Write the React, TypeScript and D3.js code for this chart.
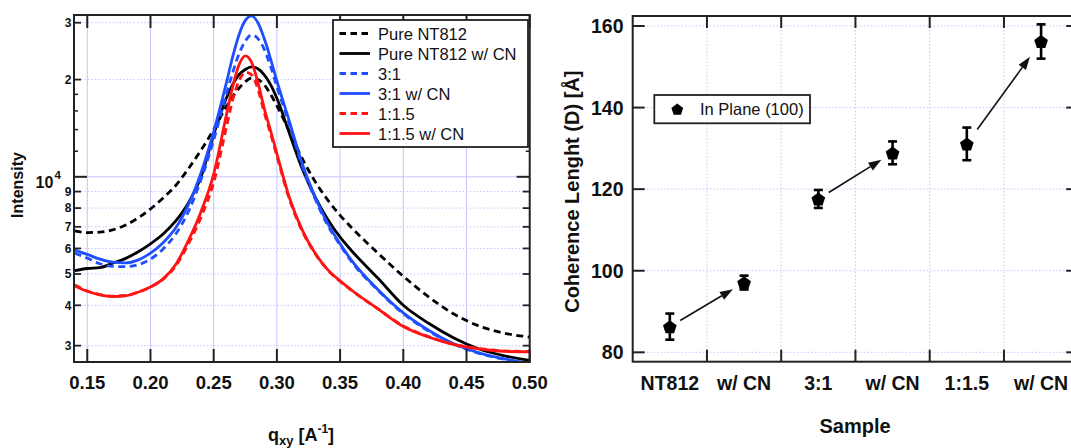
import React from 'react';
import * as d3 from 'd3';

// ---------- Left panel data ----------
const qValues = [0.14, 0.15, 0.16, 0.17, 0.18, 0.19, 0.20, 0.21, 0.22, 0.23, 0.24, 0.25, 0.26, 0.265, 0.27, 0.275, 0.28, 0.285, 0.29, 0.295, 0.30, 0.31, 0.32, 0.33, 0.34, 0.35, 0.36, 0.38, 0.40, 0.42, 0.44, 0.46, 0.48, 0.50];
const pureNT812 = [6800, 6720, 6740, 6850, 7080, 7450, 7950, 8600, 9400, 10600, 12100, 14000, 16500, 17700, 18800, 19700, 20200, 20000, 19300, 18000, 16600, 13800, 11400, 9700, 8500, 7600, 6900, 5800, 4920, 4250, 3760, 3450, 3280, 3190];
const pureNT812CN = [5120, 5200, 5230, 5400, 5580, 5850, 6200, 6650, 7300, 8300, 10000, 13500, 17500, 19300, 20700, 21500, 21900, 21600, 20700, 19300, 17500, 13600, 10600, 8700, 7400, 6500, 5850, 4850, 4000, 3520, 3170, 2930, 2790, 2700];
const ratio31 = [5800, 5600, 5380, 5280, 5270, 5340, 5560, 5980, 6650, 7800, 9800, 13000, 18000, 21000, 24000, 26300, 27500, 26800, 24800, 22000, 19000, 14500, 10800, 8600, 7100, 6150, 5400, 4450, 3770, 3330, 3030, 2840, 2720, 2640];
const ratio31CN = [5930, 5750, 5560, 5440, 5410, 5520, 5800, 6250, 6950, 8200, 10300, 13800, 19500, 23500, 27500, 30500, 31500, 30000, 26800, 23200, 19800, 14800, 11000, 8700, 7200, 6200, 5450, 4470, 3790, 3350, 3040, 2850, 2730, 2650];
const ratio115 = [4620, 4430, 4320, 4270, 4290, 4390, 4560, 4820, 5300, 6200, 7500, 9600, 14200, 17300, 19800, 21100, 20700, 18700, 15800, 13600, 11600, 8500, 6800, 5800, 5150, 4750, 4420, 3900, 3450, 3200, 3030, 2940, 2890, 2880];
const ratio115CN = [4600, 4420, 4310, 4260, 4280, 4390, 4560, 4830, 5350, 6350, 7800, 10200, 15500, 19000, 22200, 23700, 22600, 19600, 16300, 13900, 11800, 8600, 6850, 5820, 5170, 4760, 4430, 3900, 3440, 3190, 3020, 2930, 2880, 2870];

const seriesNames = ['Pure NT812', 'Pure NT812 w/ CN', '3:1', '3:1 w/ CN', '1:1.5', '1:1.5 w/ CN'];
const seriesColors = ['#000000', '#000000', '#1f4fff', '#1f4fff', '#ff1414', '#ff1414'];
const seriesDashed = [true, false, true, false, true, false];
const seriesValues = [pureNT812, pureNT812CN, ratio31, ratio31CN, ratio115, ratio115CN];

const xTickValues = [0.15, 0.20, 0.25, 0.30, 0.35, 0.40, 0.45, 0.50];
const xTickLabels = ['0.15', '0.20', '0.25', '0.30', '0.35', '0.40', '0.45', '0.50'];
const yLabeledTicks = [3000, 4000, 5000, 6000, 7000, 8000, 9000, 20000, 30000];
const yLabeledText = ['3', '4', '5', '6', '7', '8', '9', '2', '3'];
const yMinorTicks = [12000, 14000, 16000, 18000];
const yDecadeTicks = [10000];

// ---------- Right panel data ----------
const samples = ['NT812', 'w/ CN', '3:1', 'w/ CN', '1:1.5', 'w/ CN'];
const coherence = [86.3, 97.1, 117.6, 128.9, 131.1, 156.2];
const coherenceErr = [3.2, 1.7, 2.2, 2.8, 4.0, 4.2];
const rightYTicks = [80, 100, 120, 140, 160];
const arrowPairs = [[0, 1], [2, 3], [4, 5]];

const FONT = "'Liberation Sans', Arial, Helvetica, sans-serif";
const GRID = '#c4c4ff';
const AX = '#222';

function pentagonPath(cx: number, cy: number, r: number) {
  const pts: string[] = [];
  for (let k = 0; k < 5; k++) {
    const a = -Math.PI / 2 + (k * 2 * Math.PI) / 5;
    pts.push(`${(cx + r * Math.cos(a)).toFixed(2)},${(cy + r * Math.sin(a) * 1.0).toFixed(2)}`);
  }
  return 'M' + pts.join('L') + 'Z';
}

export default function App() {
  // Left panel geometry
  const L = { left: 74, right: 529.7, top: 15, bottom: 362 };
  const x = d3.scaleLinear().domain([0.1395, 0.5]).range([L.left, L.right]);
  const y = d3.scaleLog().domain([2670, 31700]).range([L.bottom, L.top]);

  const line = d3
    .line<number>()
    .x((_, i) => x(qValues[i]))
    .y((d) => y(d))
    .curve(d3.curveMonotoneX);

  // Right panel geometry
  const R = { left: 632.7, right: 1078.2, top: 16, bottom: 361.7 };
  const xr = d3.scaleLinear().domain([0, 6]).range([R.left, R.right]);
  const yr = d3.scaleLinear().domain([77.7, 162.45]).range([R.bottom, R.top]);

  const legendX = 333, legendY = 20, legendW = 195, legendH = 127;

  return (
    <svg
      width={1071}
      height={448}
      style={{ position: 'absolute', left: 0, top: 0, background: '#fff' }}
      fontFamily={FONT}
    >
      <defs>
        <clipPath id="leftClip">
          <rect x={L.left} y={L.top} width={L.right - L.left} height={L.bottom - L.top} />
        </clipPath>
      </defs>
      <rect x={0} y={0} width={1071} height={448} fill="#fff" />

      {/* ===== Left panel ===== */}
      {/* vertical grid (solid) */}
      {xTickValues.map((v) => (
        <line key={'vg' + v} x1={x(v)} x2={x(v)} y1={L.top} y2={L.bottom} stroke={GRID} strokeWidth={1} />
      ))}
      {/* horizontal grid */}
      {yLabeledTicks.map((v, i) => (
        <line key={'hg' + i} x1={L.left} x2={L.right} y1={y(v)} y2={y(v)} stroke={GRID} strokeWidth={1} strokeDasharray="1.5,2" />
      ))}
      {yDecadeTicks.map((v) => (
        <line key={'hd' + v} x1={L.left} x2={L.right} y1={y(v)} y2={y(v)} stroke={GRID} strokeWidth={1} />
      ))}

      {/* curves */}
      <g clipPath="url(#leftClip)">
        {seriesValues.map((vals, i) => (
          <path
            key={'s' + i}
            d={line(vals) || ''}
            fill="none"
            stroke={seriesColors[i]}
            strokeWidth={2.8}
            strokeDasharray={seriesDashed[i] ? '7,4.5' : undefined}
          />
        ))}
      </g>

      {/* frame */}
      <rect x={L.left} y={L.top} width={L.right - L.left} height={L.bottom - L.top} fill="none" stroke={AX} strokeWidth={2} />

      {/* x ticks (bottom & top, inward) */}
      {xTickValues.map((v) => (
        <g key={'xt' + v}>
          <line x1={x(v)} x2={x(v)} y1={L.bottom} y2={L.bottom - 13} stroke={AX} strokeWidth={2} />
          <line x1={x(v)} x2={x(v)} y1={L.top} y2={L.top + 13} stroke={AX} strokeWidth={2} />
        </g>
      ))}
      {xTickValues.map((v, i) => (
        <text key={'xl' + v} x={x(v)} y={388.5} textAnchor="middle" fontSize={18.5} fontWeight="bold" fill="#111">
          {xTickLabels[i]}
        </text>
      ))}

      {/* y ticks */}
      {yLabeledTicks.map((v, i) => (
        <g key={'yt' + i}>
          <line x1={L.left} x2={L.left + 7} y1={y(v)} y2={y(v)} stroke={AX} strokeWidth={1.8} />
          <line x1={L.right} x2={L.right - 7} y1={y(v)} y2={y(v)} stroke={AX} strokeWidth={1.8} />
          <text x={71.5} y={y(v) + 4.3} textAnchor="end" fontSize={12} fontWeight="bold" fill="#111">
            {yLabeledText[i]}
          </text>
        </g>
      ))}
      {yMinorTicks.map((v) => (
        <g key={'ym' + v}>
          <line x1={L.left} x2={L.left + 4} y1={y(v)} y2={y(v)} stroke={AX} strokeWidth={1.5} />
          <line x1={L.right} x2={L.right - 4} y1={y(v)} y2={y(v)} stroke={AX} strokeWidth={1.5} />
        </g>
      ))}
      {yDecadeTicks.map((v) => (
        <g key={'yd' + v}>
          <line x1={L.left} x2={L.left + 13} y1={y(v)} y2={y(v)} stroke={AX} strokeWidth={2} />
          <line x1={L.right} x2={L.right - 13} y1={y(v)} y2={y(v)} stroke={AX} strokeWidth={2} />
          <text x={35.5} y={y(v) + 11} fontSize={16} fontWeight="bold" fill="#111">10</text>
          <text x={54.5} y={y(v) + 2.5} fontSize={11.5} fontWeight="bold" fill="#111">4</text>
        </g>
      ))}

      {/* axis labels */}
      <text
        transform="translate(23,185) rotate(-90)"
        textAnchor="middle"
        fontSize={16}
        fontWeight="bold"
        fill="#111"
      >
        Intensity
      </text>
      <text x={301} y={441} textAnchor="middle" fontSize={18} fontWeight="bold" fill="#111">
        q<tspan fontSize={13} dy={4}>xy</tspan>
        <tspan dy={-4}> [A</tspan>
        <tspan fontSize={12} dy={-8}>-1</tspan>
        <tspan dy={8}>]</tspan>
      </text>

      {/* legend */}
      <rect x={legendX} y={legendY} width={legendW} height={legendH} fill="#fff" stroke={AX} strokeWidth={1.8} />
      {seriesNames.map((name, i) => {
        const cy = 33.5 + i * 20;
        return (
          <g key={'lg' + i}>
            <line
              x1={339.5}
              x2={370}
              y1={cy}
              y2={cy}
              stroke={seriesColors[i]}
              strokeWidth={2.8}
              strokeDasharray={seriesDashed[i] ? '6.5,4.5' : undefined}
            />
            <text x={378} y={cy + 6} fontSize={16.5} fill="#111">
              {name}
            </text>
          </g>
        );
      })}

      {/* ===== Right panel ===== */}
      {d3.range(1, 6).map((i) => (
        <line key={'rvg' + i} x1={xr(i)} x2={xr(i)} y1={R.top} y2={R.bottom} stroke={GRID} strokeWidth={1} strokeDasharray="1.5,2" />
      ))}
      {rightYTicks.map((v) => (
        <line key={'rhg' + v} x1={R.left} x2={R.right} y1={yr(v)} y2={yr(v)} stroke={GRID} strokeWidth={1} strokeDasharray="1.5,2" />
      ))}
      <rect x={R.left} y={R.top} width={R.right - R.left} height={R.bottom - R.top} fill="none" stroke={AX} strokeWidth={2} />
      {d3.range(1, 6).map((i) => (
        <g key={'rxt' + i}>
          <line x1={xr(i)} x2={xr(i)} y1={R.bottom} y2={R.bottom - 12} stroke={AX} strokeWidth={2} />
          <line x1={xr(i)} x2={xr(i)} y1={R.top} y2={R.top + 12} stroke={AX} strokeWidth={2} />
        </g>
      ))}
      {rightYTicks.map((v) => (
        <g key={'ryt' + v}>
          <line x1={R.left} x2={R.left + 12} y1={yr(v)} y2={yr(v)} stroke={AX} strokeWidth={2} />
          <line x1={R.right} x2={R.right - 12} y1={yr(v)} y2={yr(v)} stroke={AX} strokeWidth={2} />
          <text x={623.5} y={yr(v) + 7} textAnchor="end" fontSize={19.5} fontWeight="bold" fill="#111">
            {v}
          </text>
        </g>
      ))}
      {samples.map((s, i) => (
        <text key={'rxl' + i} x={xr(i + 0.5)} y={390} textAnchor="middle" fontSize={19.5} fontWeight="bold" fill="#111">
          {s}
        </text>
      ))}
      <text x={855} y={433} textAnchor="middle" fontSize={20} fontWeight="bold" fill="#111">
        Sample
      </text>
      <text
        transform="translate(578.5,191.7) rotate(-90)"
        textAnchor="middle"
        fontSize={20}
        fontWeight="bold"
        fill="#111"
      >
        Coherence Lenght (D) [Å]
      </text>

      {/* arrows */}
      {arrowPairs.map(([a, b], k) => {
        const x1 = xr(a + 0.5), y1 = yr(coherence[a]);
        const x2 = xr(b + 0.5), y2 = yr(coherence[b]);
        const sx = x1 + 0.14 * (x2 - x1), sy = y1 + 0.14 * (y2 - y1);
        const ex = x1 + 0.85 * (x2 - x1), ey = y1 + 0.85 * (y2 - y1);
        const ang = Math.atan2(ey - sy, ex - sx);
        const hl = 13, hw = 4.5;
        const bx = ex - hl * Math.cos(ang), by = ey - hl * Math.sin(ang);
        const p1 = [bx + hw * Math.sin(ang), by - hw * Math.cos(ang)];
        const p2 = [bx - hw * Math.sin(ang), by + hw * Math.cos(ang)];
        return (
          <g key={'ar' + k}>
            <line x1={sx} y1={sy} x2={bx} y2={by} stroke="#111" strokeWidth={1.6} />
            <path d={`M${ex},${ey}L${p1[0]},${p1[1]}L${p2[0]},${p2[1]}Z`} fill="#111" />
          </g>
        );
      })}

      {/* error bars & markers */}
      {coherence.map((v, i) => {
        const cx = xr(i + 0.5);
        const top = yr(v + coherenceErr[i]);
        const bot = yr(v - coherenceErr[i]);
        return (
          <g key={'pt' + i}>
            <line x1={cx} x2={cx} y1={top} y2={bot} stroke="#000" strokeWidth={2.6} />
            <line x1={cx - 4.5} x2={cx + 4.5} y1={top} y2={top} stroke="#000" strokeWidth={2.6} />
            <line x1={cx - 4.5} x2={cx + 4.5} y1={bot} y2={bot} stroke="#000" strokeWidth={2.6} />
            <path d={pentagonPath(cx, yr(v) + 0.8, 7.2)} fill="#000" />
          </g>
        );
      })}

      {/* right legend */}
      <rect x={654.3} y={95} width={155.7} height={28.3} fill="#fff" stroke={AX} strokeWidth={1.8} />
      <path d={pentagonPath(677.3, 109.8, 6.2)} fill="#000" />
      <text x={700} y={115} fontSize={16.5} fill="#111">In Plane (100)</text>
    </svg>
  );
}
